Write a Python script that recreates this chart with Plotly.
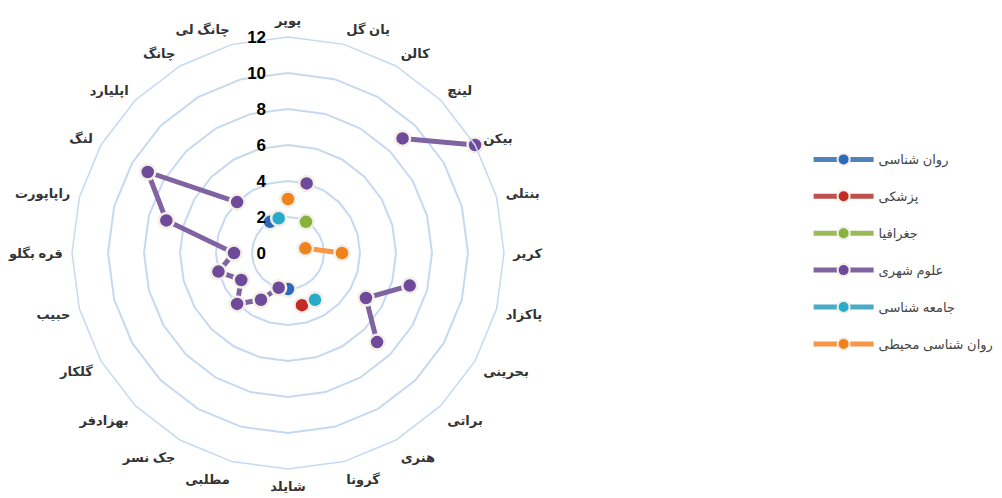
import plotly.graph_objects as go

categories = ["پوپر", "یان گل", "کالن", "لینچ", "بیکن", "بنتلی", "کریر", "پاکزاد",
              "بحرینی", "براتی", "هنری", "گرونا", "شایلد", "مطلبی", "جک نسر", "بهزادفر",
              "گلکار", "حبیب", "قره بگلو", "راپاپورت", "لنگ", "اپلیارد", "چانگ", "چانگ لی"]

N = None
psychology = [N, N, N, N, N, N, N, N, N, N, N, N, 2, N, N, N, N, N, N, N, N, N, 2, N]
medicine = [N, N, N, N, N, N, N, N, N, N, N, 3, N, N, N, N, N, N, N, N, N, N, N, N]
geography = [N, N, 2, N, N, N, N, N, N, N, N, N, N, N, N, N, N, N, N, N, N, N, N, N]
urban = [N, 4, N, 9, 12, N, N, 7, 5, 7, N, N, N, 2, 3, 4, 3, 4, 3, 7, 9, 4, N, N]
sociology = [N, N, N, N, N, N, N, N, N, N, 3, N, N, N, N, N, N, N, N, N, N, N, N, 2]
env_psych = [3, N, N, N, N, 1, 3, N, N, N, N, N, N, N, N, N, N, N, N, N, N, N, N, N]

series_names = ["روان شناسی", "پزشکی", "جغرافیا", "علوم شهری", "جامعه شناسی", "روان شناسی محیطی"]
series_values = [psychology, medicine, geography, urban, sociology, env_psych]
line_colors = ["#4f81bd", "#c0504d", "#9bbb59", "#8064a2", "#4bacc6", "#f79646"]
marker_colors = ["#2a6ab8", "#c42a26", "#86b33c", "#6f4a9a", "#2aaacb", "#f0821c"]

radial_ticks = [0, 2, 4, 6, 8, 10, 12]
radial_labels = [str(v) + "\u00a0\u00a0\u00a0\u00a0" for v in radial_ticks]

fig = go.Figure()
for i, (name, vals) in enumerate(zip(series_names, series_values)):
    fig.add_trace(go.Scatterpolar(
        r=vals, theta=categories, name=name, mode="lines+markers",
        legendgroup=f"g{i}",
        line=dict(color=line_colors[i], width=5),
        marker=dict(size=15, color=marker_colors[i],
                    line=dict(color="#f2efe6", width=2.5)),
        connectgaps=False,
    ))

fig.update_layout(
    width=1002, height=498,
    margin=dict(l=0, r=0, t=0, b=0),
    paper_bgcolor="white",
    font=dict(family="Arial, DejaVu Sans", color="#333333"),
    polar=dict(
        domain=dict(x=[0.0639, 0.495], y=[0.0743, 0.9418]),
        bgcolor="white",
        gridshape="linear",
        angularaxis=dict(
            rotation=90, direction="clockwise",
            showgrid=False, showline=True, linecolor="#c6d9f0", linewidth=1.5,
            ticks="outside", ticklen=6, tickcolor="rgba(0,0,0,0)",
            tickfont=dict(size=13, color="#333333", family="Arial, DejaVu Sans", weight="bold"),
        ),
        radialaxis=dict(
            range=[0, 12], tickvals=radial_ticks, ticktext=radial_labels,
            angle=90, tickangle=90, side="counterclockwise",
            showline=False, ticks="",
            gridcolor="#c6d9f0", gridwidth=1.5,
            tickfont=dict(size=17, color="#000000", family="Arial", weight="bold"),
        ),
    ),
    legend=dict(
        x=0.799, y=0.726, xanchor="left", yanchor="top",
        traceorder="grouped", tracegroupgap=17,
        itemwidth=60, itemsizing="constant",
        font=dict(size=13, color="#444444", family="Arial, DejaVu Sans"),
    ),
    showlegend=True,
)

fig.write_html("out.html")
